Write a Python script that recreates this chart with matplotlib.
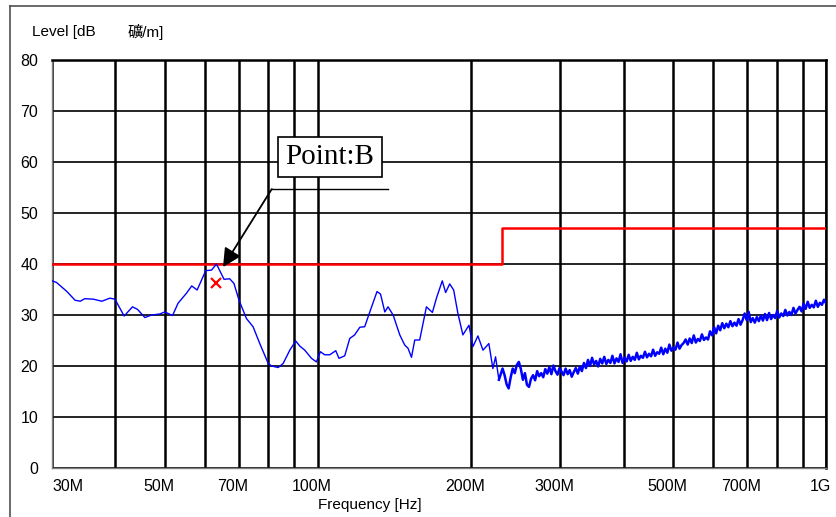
import numpy as np
import matplotlib
matplotlib.use("Agg")
import matplotlib.pyplot as plt
from matplotlib.lines import Line2D
from matplotlib.transforms import ScaledTranslation

# measured trace, smooth part (MHz, dBuV/m)
freq_smooth = [30.0, 30.6, 32.1, 33.3, 34.1, 34.8, 36.2, 37.6, 39.0, 39.9,
               41.6, 43.2, 44.2, 45.7, 47.1, 48.9, 50.0, 51.8, 53.1, 55.2,
               56.5, 57.9, 60.2, 61.8, 63.2, 65.4, 67.1, 68.4, 70.0, 72.4,
               74.6, 76.9, 79.9, 81.1, 83.6, 85.5, 88.1, 90.5, 92.2, 94.3,
               97.2, 99.4, 101.2, 103.2, 105.6, 108.5, 110.1, 113.0, 115.6, 118.2,
               121.0, 123.7, 126.6, 130.8, 132.9, 135.5, 137.5, 140.7, 145.0, 148.3,
               150.5, 152.9, 155.2, 158.7, 163.6, 168.1, 171.2, 175.8, 178.5, 181.8,
               185.1, 188.7, 193.0, 198.4, 202.0, 206.6, 211.4, 217.1, 221.1, 223.8,
               227.2]
level_smooth = [36.7, 36.4, 34.6, 32.9, 32.7, 33.2, 33.1, 32.7, 33.3, 33.1,
                29.8, 31.6, 31.1, 29.5, 30.0, 30.2, 30.6, 29.9, 32.3, 34.3,
                35.7, 34.9, 38.7, 38.8, 40.0, 37.0, 37.1, 36.2, 32.9, 29.3,
                27.7, 24.4, 20.5, 20.0, 19.7, 20.5, 23.1, 24.9, 23.9, 23.1,
                21.5, 20.8, 22.8, 22.2, 22.2, 23.0, 21.5, 22.0, 25.4, 26.1,
                27.6, 27.7, 30.6, 34.6, 34.1, 30.6, 31.6, 30.0, 26.1, 24.1,
                23.5, 21.7, 25.1, 25.1, 31.6, 30.5, 33.3, 36.7, 34.4, 36.1,
                34.9, 30.3, 26.1, 28.0, 23.8, 25.9, 23.1, 24.4, 19.5, 21.8,
                17.3]

# noisy part of the sweep, 231 MHz .. 1 GHz
sweep_start, sweep_stop = 231.0, 1000.0
level_sweep = [19.5, 18.2, 16.4, 15.6, 17.8, 19.5, 18.6, 20.2, 20.8, 19.4,
               17.3, 18.6, 16.3, 15.9, 17.5, 18.2, 17.2, 19.0, 18.0, 18.6,
               17.8, 19.4, 18.5, 19.8, 18.4, 20.1, 19.0, 18.3, 19.6, 18.9,
               18.2, 19.5, 18.4, 19.2, 17.9, 18.8, 19.6, 18.5, 19.9, 19.0,
               20.6, 19.6, 21.2, 20.0, 21.6, 20.3, 21.0, 19.9, 21.4, 20.5,
               21.8, 20.4, 21.2, 20.6, 22.0, 20.5, 21.5, 20.8, 22.3, 20.6,
               21.6, 20.9, 22.2, 21.0, 21.8, 21.2, 22.6, 21.3, 22.0, 21.6,
               22.8, 21.7, 22.4, 21.9, 23.2, 22.0, 22.7, 22.4, 23.6, 22.3,
               23.4, 22.6, 24.2, 23.0, 23.6, 23.2, 24.6, 23.4, 24.1, 24.5,
               25.2, 24.2, 25.4, 24.5, 26.0, 24.6, 25.3, 24.9, 26.2, 25.1,
               25.6, 25.2, 26.8, 26.0, 27.6, 26.4, 27.9, 27.0, 28.4, 27.4,
               28.3, 27.6, 28.8, 27.8, 28.5, 27.9, 29.2, 28.1, 29.0, 30.3,
               29.0, 30.6, 28.6, 29.4, 28.5, 29.6, 28.8, 29.9, 28.9, 30.2,
               29.0, 30.4, 29.2, 30.0, 29.4, 30.8, 29.5, 30.3, 29.8, 31.0,
               29.9, 30.6, 30.0, 31.4, 30.3, 31.0, 31.6, 30.7, 32.2, 31.2,
               32.6, 31.4, 32.0, 31.5, 32.8, 31.6, 32.4, 32.0, 33.0, 32.3]
freq_sweep = np.geomspace(sweep_start, sweep_stop, len(level_sweep))

# limit line
limit_freq = [30, 230, 230, 1000]
limit_level = [40, 40, 47, 47]

# marked point
point_freq, point_level = 63.0, 36.3
point_name = "Point:B"

major_ticks = [30, 50, 70, 100, 200, 300, 500, 700, 1000]
major_labels = ["30M", "50M", "70M", "100M", "200M", "300M", "500M", "700M", "1G"]
minor_ticks = [40, 60, 80, 90, 400, 600, 800, 900]

plt.rcParams["font.family"] = ["Liberation Sans", "Noto Sans CJK JP"]

fig = plt.figure(figsize=(8.37, 5.17), dpi=100)
ax = fig.add_axes([52 / 837, 49 / 517, 774 / 837, 408 / 517])

ax.set_xscale("log")
ax.set_xlim(30, 1000)
ax.set_ylim(0, 80)

ax.set_xticks(major_ticks)
ax.set_xticklabels(major_labels, fontsize=11.5)
ax.set_xticks(minor_ticks, minor=True)
ax.xaxis.set_minor_formatter(plt.NullFormatter())
ax.set_yticks(range(0, 81, 10))
ax.tick_params(axis="both", which="both", length=0, labelsize=11.5)
ax.tick_params(axis="y", pad=10)
ax.tick_params(axis="x", pad=8)

ax.grid(True, axis="x", which="both", color="black", linewidth=1.8)
ax.grid(True, axis="y", which="major", color="black", linewidth=1.2)
ax.set_axisbelow(True)

for s in ["left", "bottom"]:
    ax.spines[s].set_color("#808080")
    ax.spines[s].set_linewidth(1.0)
for s in ["top", "right"]:
    ax.spines[s].set_color("black")
    ax.spines[s].set_linewidth(1.8)

# shift x tick labels slightly left, first one sits inside the axes
off = ScaledTranslation(-6 / 100, 0, fig.dpi_scale_trans)
for i, lbl in enumerate(ax.get_xticklabels()):
    if i == 0:
        lbl.set_horizontalalignment("left")
    else:
        lbl.set_transform(lbl.get_transform() + off)

ax.plot(limit_freq, limit_level, color="#ff0000", linewidth=1.8, zorder=3)
ax.plot(freq_smooth, level_smooth, color="#0000ff", linewidth=1.0, zorder=4)
ax.plot(np.r_[freq_smooth[-1], freq_sweep], np.r_[level_smooth[-1], level_sweep],
        color="#0000ff", linewidth=1.8, zorder=4)
ax.plot([point_freq], [point_level], marker="x", color="#ff0000",
        markersize=7, markeredgewidth=1.6, linestyle="none", zorder=5)

# callout
ax.annotate("", xy=(65.1, 39.4), xytext=(81.2, 54.7),
            arrowprops=dict(arrowstyle="-|>", color="black", lw=1.3,
                            mutation_scale=28, shrinkA=0, shrinkB=0),
            zorder=6)
ax.plot([81.2, 137.3], [54.7, 54.7], color="black", linewidth=1.0, zorder=6)
ax.text(105.6, 61.0, point_name, family="Liberation Serif", fontsize=21,
        ha="center", va="center", zorder=7,
        bbox=dict(boxstyle="square,pad=0.25", facecolor="white",
                  edgecolor="black", linewidth=1.2))

fig.text(32 / 837, 1 - 32 / 517, "Level [dB", fontsize=11, va="center")
fig.text(128 / 837, 1 - 32 / 517, "礦/m]", fontsize=11, va="center")
fig.text(370 / 837, 1 - 505 / 517, "Frequency [Hz]", fontsize=11,
         ha="center", va="center")

# outer frame
fig.add_artist(Line2D([10 / 837, 10 / 837], [0, 1 - 6 / 517],
                      transform=fig.transFigure, color="#505050", lw=1.2))
fig.add_artist(Line2D([10 / 837, 1], [1 - 6 / 517, 1 - 6 / 517],
                      transform=fig.transFigure, color="#505050", lw=1.2))

fig.savefig("out.png", dpi=100)
